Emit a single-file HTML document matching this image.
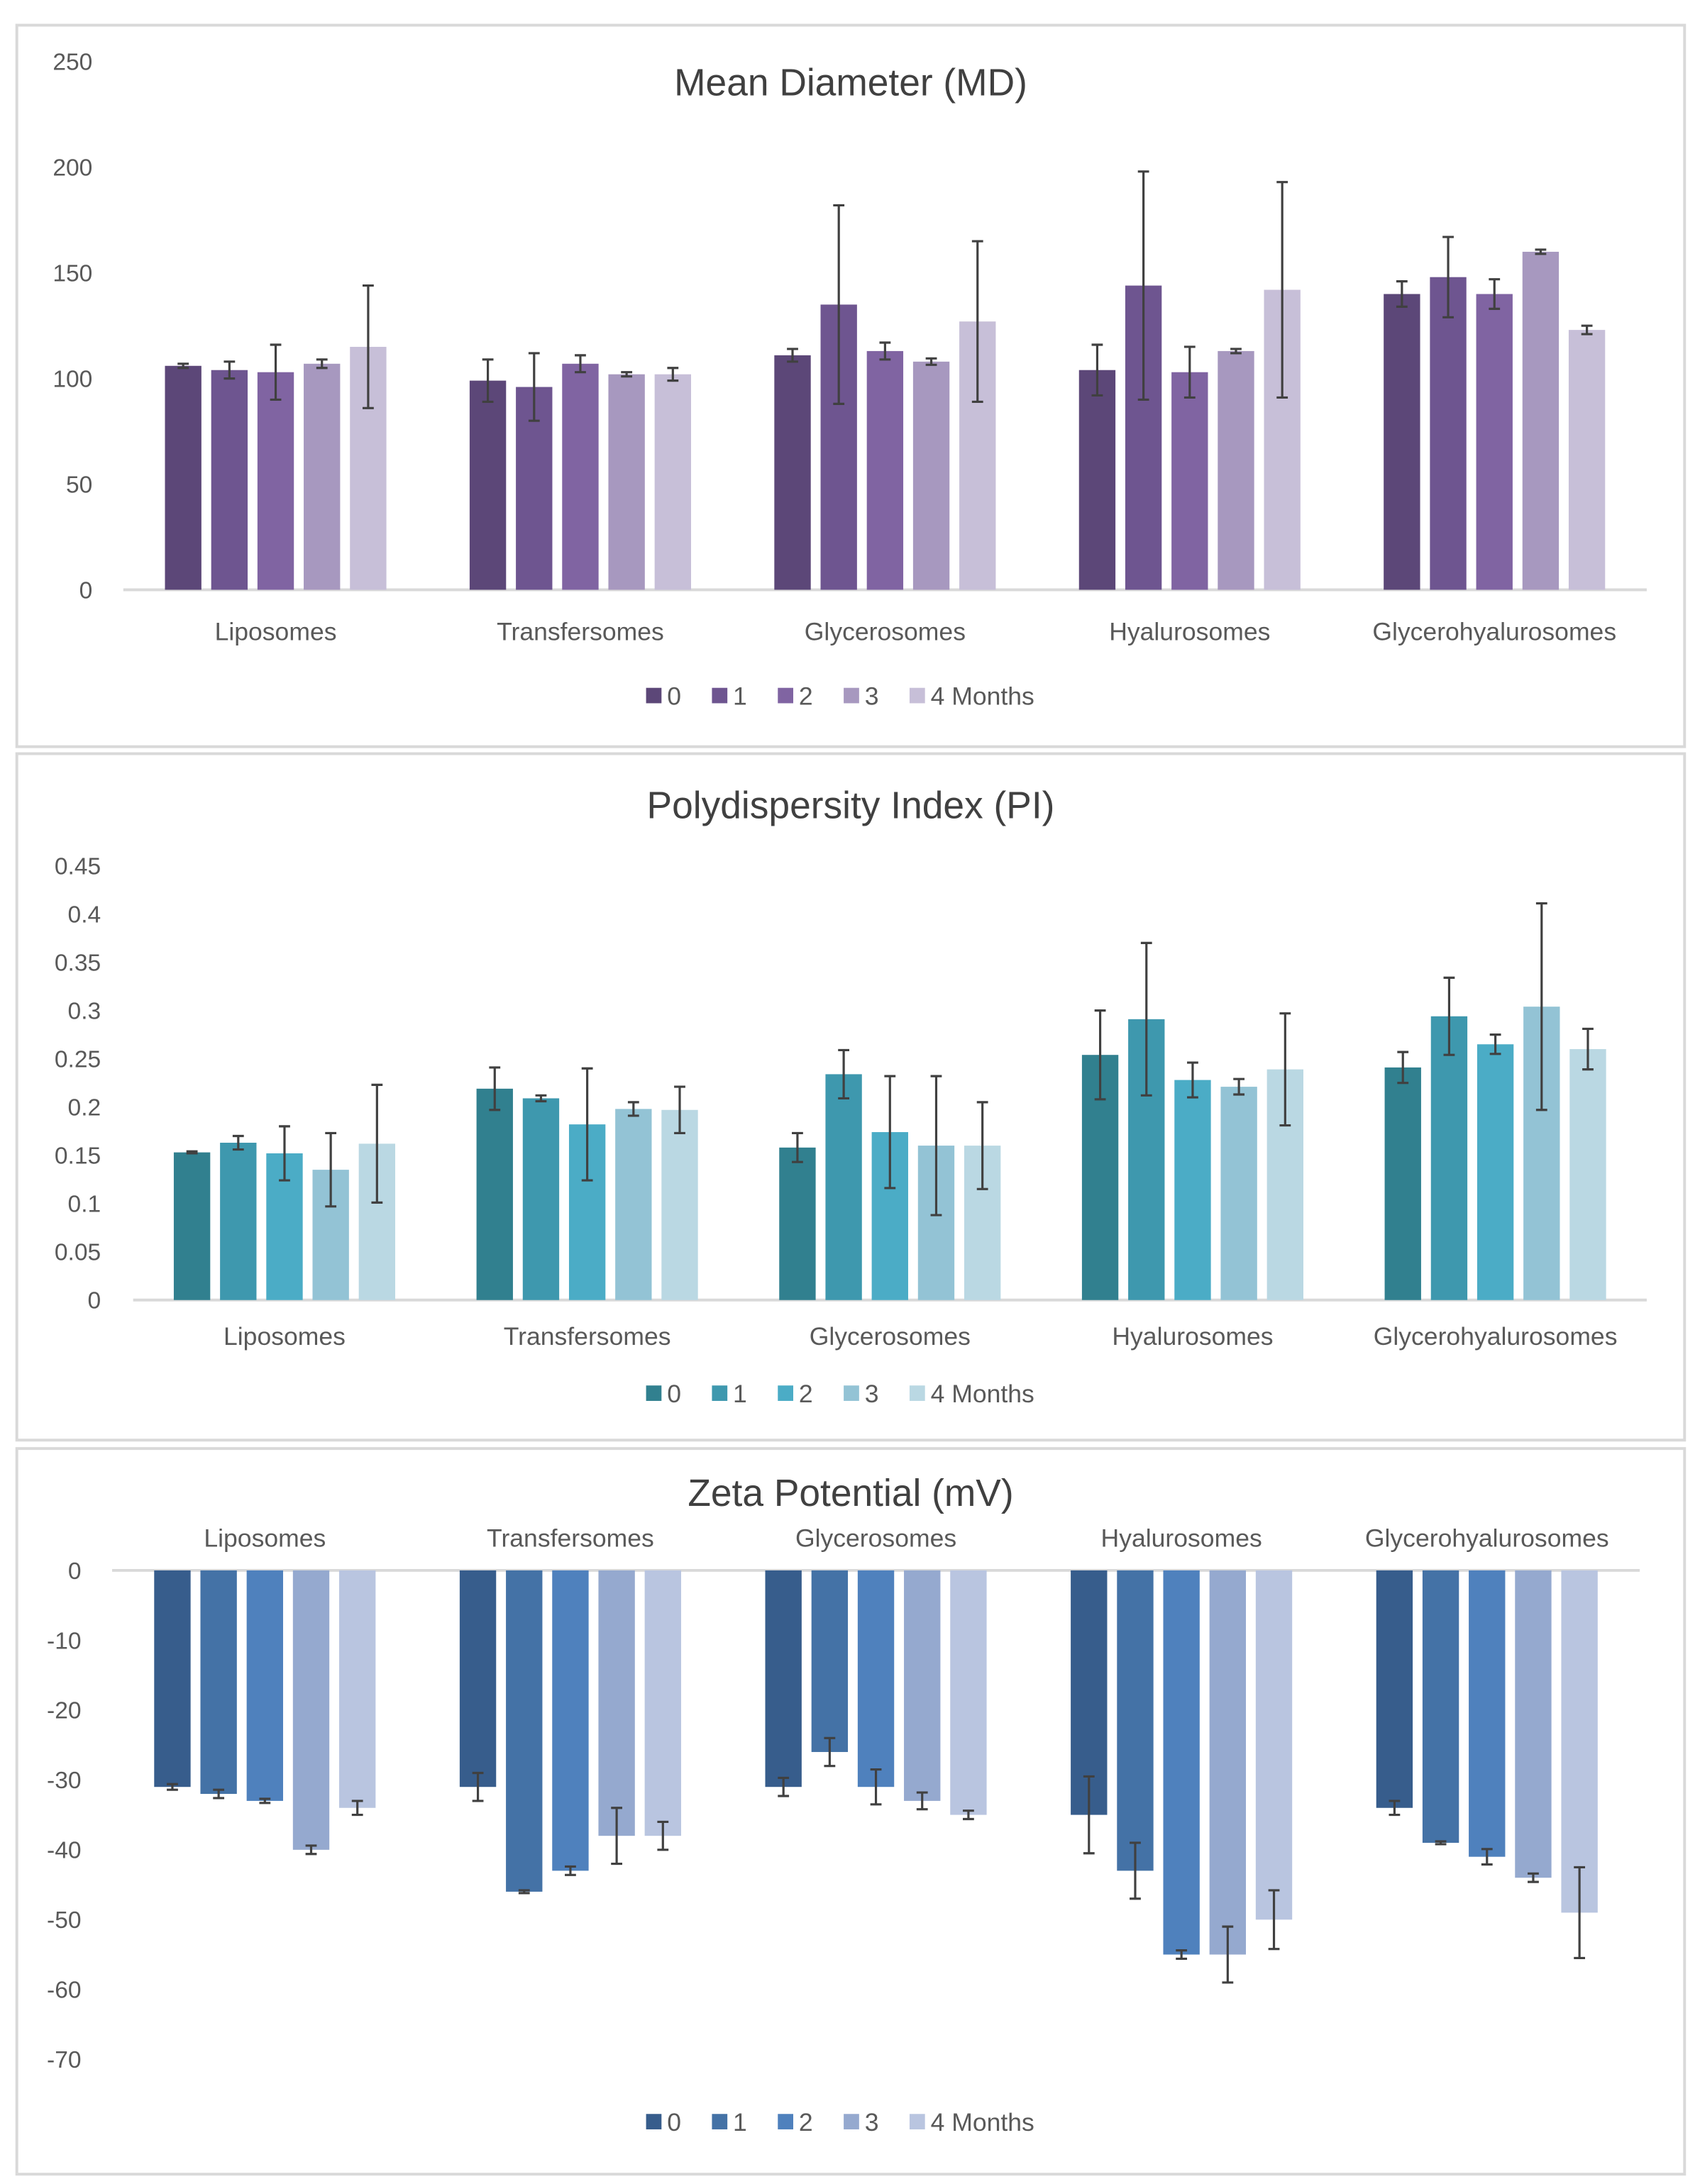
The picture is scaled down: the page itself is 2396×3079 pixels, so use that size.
<!DOCTYPE html>
<html><head><meta charset="utf-8"><style>
html,body{margin:0;padding:0;background:#fff}
svg{display:block}
text{font-family:"Liberation Sans",sans-serif}
</style></head><body>
<svg id="fig" width="2396" height="3079" viewBox="0 0 1213 1559" preserveAspectRatio="none" xmlns="http://www.w3.org/2000/svg">
<rect x="0" y="0" width="1213" height="1559" fill="#fff"/>
</svg>
<script>
const categories = ["Liposomes","Transfersomes","Glycerosomes","Hyalurosomes","Glycerohyalurosomes"];
const seriesNames = ["0","1","2","3","4 Months"];
// Mean diameter values [series][category]
const mdValues = [[106,99,111,104,140],[104,96,135,144,148],[103,107,113,103,140],[107,102,108,113,160],[115,102,127,142,123]];
const mdErrors = [[1,10,3,12,6],[4,16,47,54,19],[13,4,4,12,7],[2,1,1.5,1,1],[29,3,38,51,2]];
const mdTicks = [0,50,100,150,200,250];
// Polydispersity
const piValues = [[0.153,0.219,0.158,0.254,0.241],[0.163,0.209,0.234,0.291,0.294],[0.152,0.182,0.174,0.228,0.265],[0.135,0.198,0.160,0.221,0.304],[0.162,0.197,0.160,0.239,0.260]];
const piErrors = [[0.001,0.022,0.015,0.046,0.016],[0.007,0.003,0.025,0.079,0.040],[0.028,0.058,0.058,0.018,0.010],[0.038,0.007,0.072,0.008,0.107],[0.061,0.024,0.045,0.058,0.021]];
const piTicks = ["0","0.05","0.1","0.15","0.2","0.25","0.3","0.35","0.4","0.45"];
// Zeta potential
const zpValues = [[-31,-31,-31,-35,-34],[-32,-46,-26,-43,-39],[-33,-43,-31,-55,-41],[-40,-38,-33,-55,-44],[-34,-38,-35,-50,-49]];
const zpErrors = [[0.4,2,1.3,5.5,1],[0.6,0.2,2,4,0.2],[0.3,0.6,2.5,0.6,1.1],[0.6,4,1.2,4,0.6],[1,2,0.6,4.2,6.5]];
const zpTicks = [0,-10,-20,-30,-40,-50,-60,-70];

const NS="http://www.w3.org/2000/svg";
const svg=document.getElementById('fig');
function mk(tag,attrs,parent,txt){const e=document.createElementNS(NS,tag);for(const k in attrs)e.setAttribute(k,attrs[k]);if(txt!==undefined)e.textContent=txt;(parent||svg).appendChild(e);return e;}

function chart(cfg){
  const g=mk('g',{});
  
  
  const panel=mk('rect',{x:12,y:cfg.top,width:1190,height:cfg.h,fill:'#fff',stroke:'#d9d9d9','stroke-width':2},g);
  
  
  const t=mk('text',{x:607,y:cfg.titleY,'text-anchor':'middle','font-size':27,fill:'#404040'},g,cfg.title);
  
  
  const y=v=>cfg.y0+(v-cfg.vmin)*cfg.pxPer*(cfg.neg?-1:1)*(-1);
  // ticks
  cfg.ticks.forEach(tk=>{
    const v=parseFloat(tk);
    const tl=mk('text',{x:cfg.tickX,y:cfg.yf(v)+6,'text-anchor':'end','font-size':17,fill:'#595959'},g,String(tk));
    
    
  });
  const ax=mk('line',{x1:cfg.axX1,x2:cfg.axX2,y1:cfg.yf(0),y2:cfg.yf(0),stroke:'#d9d9d9','stroke-width':2},g);
  
  
  const step=(cfg.axX2-cfg.axX1)/categories.length;
  categories.forEach((c,ci)=>{
    const cx=cfg.axX1+step*(ci+0.5);
    const cl=mk('text',{x:cx,y:cfg.catY,'text-anchor':'middle','font-size':18,fill:'#595959'},g,c);
    
    
    seriesNames.forEach((s,si)=>{
      const v=cfg.vals[si][ci], e=cfg.errs[si][ci];
      const bx=cx+(si-2)*33-13;
      const y0=cfg.yf(0), yv=cfg.yf(v);
      const b=mk('rect',{x:bx,y:Math.min(y0,yv),width:26,height:Math.abs(yv-y0),fill:cfg.colors[si]},g);
      
      
      const ya=cfg.yf(v+e), yb=cfg.yf(v-e), mx=bx+13;
      const eg=mk('path',{d:`M${mx},${ya}V${yb}M${mx-4},${ya}H${mx+4}M${mx-4},${yb}H${mx+4}`,stroke:'#404040','stroke-width':1.6,fill:'none'},g);
      
      
    });
  });
  // legend
  const lx=[461,508,555,602,649];
  seriesNames.forEach((s,si)=>{
    const sw=mk('rect',{x:lx[si],y:cfg.legY-8,width:11,height:11,fill:cfg.colors[si]},g);
    
    
    const lt=mk('text',{x:lx[si]+15,y:cfg.legY+4,'font-size':18,fill:'#595959'},g,s);
    
    
  });
}

chart({name:'mean-diameter-chart',top:18,h:515,title:'Mean Diameter (MD)',titleY:68,
  yf:v=>421-v*(377/250),ticks:mdTicks,tickX:66,axX1:88,axX2:1175,catY:457,legY:499,
  vals:mdValues,errs:mdErrors,colors:['#5c4778','#6e5590','#8064a2','#a798bf','#c7bfd8']});
chart({name:'polydispersity-chart',top:538,h:490,title:'Polydispersity Index (PI)',titleY:584,
  yf:v=>928-v*(310/0.45),ticks:piTicks,tickX:72,axX1:95,axX2:1175,catY:960,legY:997,
  vals:piValues,errs:piErrors,colors:['#31808f','#3e98ae','#4bacc6','#93c3d5','#bad8e3']});
chart({name:'zeta-potential-chart',top:1034,h:518,title:'Zeta Potential (mV)',titleY:1075,
  yf:v=>1121+(-v)*(349/70),ticks:zpTicks,tickX:58,axX1:80,axX2:1170,catY:1104,legY:1517,
  vals:zpValues,errs:zpErrors,colors:['#375d8c','#4472a6','#4f81bd','#95a9cf','#b9c5e0']});
</script>
</body></html>
